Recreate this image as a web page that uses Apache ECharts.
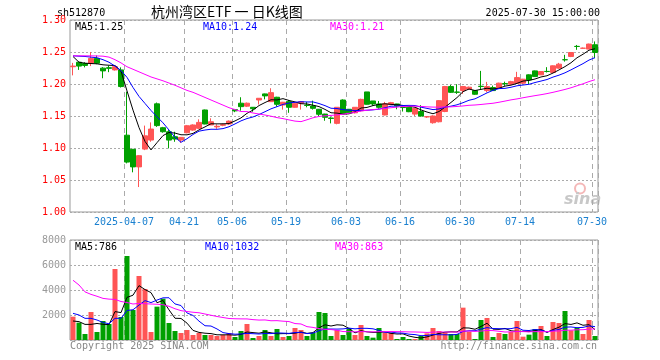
<!DOCTYPE html>
<html><head><meta charset="utf-8">
<script src="https://cdn.jsdelivr.net/npm/echarts@6/dist/echarts.min.js"></script>
<style>html,body{margin:0;padding:0;background:#fff}#c{width:660px;height:360px}</style>
</head><body><div id="c"></div>
<script>
const dates = ['2025-03-24','2025-03-25','2025-03-26','2025-03-27','2025-03-28','2025-03-31','2025-04-01','2025-04-02','2025-04-03','2025-04-07','2025-04-08','2025-04-09','2025-04-10','2025-04-11','2025-04-14','2025-04-15','2025-04-16','2025-04-17','2025-04-18','2025-04-21','2025-04-22','2025-04-23','2025-04-24','2025-04-25','2025-04-28','2025-04-29','2025-04-30','2025-05-06','2025-05-07','2025-05-08','2025-05-09','2025-05-12','2025-05-13','2025-05-14','2025-05-15','2025-05-16','2025-05-19','2025-05-20','2025-05-21','2025-05-22','2025-05-23','2025-05-26','2025-05-27','2025-05-28','2025-05-29','2025-05-30','2025-06-03','2025-06-04','2025-06-05','2025-06-06','2025-06-09','2025-06-10','2025-06-11','2025-06-12','2025-06-13','2025-06-16','2025-06-17','2025-06-18','2025-06-19','2025-06-20','2025-06-23','2025-06-24','2025-06-25','2025-06-26','2025-06-27','2025-06-30','2025-07-01','2025-07-02','2025-07-03','2025-07-04','2025-07-07','2025-07-08','2025-07-09','2025-07-10','2025-07-11','2025-07-14','2025-07-15','2025-07-16','2025-07-17','2025-07-18','2025-07-21','2025-07-22','2025-07-23','2025-07-24','2025-07-25','2025-07-28','2025-07-29','2025-07-30'];
const open  = [1.227,1.234,1.232,1.232,1.240,1.2248,1.2255,1.222,1.222,1.120,1.098,1.0705,1.0983,1.1124,1.169,1.1317,1.1254,1.1176,1.1124,1.1238,1.128,1.1307,1.1594,1.136,1.133,1.1355,1.1375,1.160,1.170,1.1654,1.1636,1.175,1.1845,1.1724,1.1793,1.1672,1.1724,1.1636,1.170,1.167,1.1657,1.1605,1.153,1.1468,1.1385,1.175,1.1605,1.155,1.1583,1.1876,1.1735,1.1688,1.1516,1.1677,1.1688,1.164,1.1636,1.153,1.157,1.1485,1.1395,1.141,1.157,1.196,1.1875,1.1897,1.192,1.1897,1.1965,1.1897,1.1944,1.1934,1.2008,1.1997,1.201,1.2013,1.2143,1.2205,1.2143,1.2197,1.218,1.2248,1.238,1.243,1.2588,1.2558,1.2545,1.2613];
const close = [1.228,1.228,1.229,1.240,1.2325,1.2205,1.2245,1.227,1.196,1.078,1.0705,1.088,1.119,1.1296,1.135,1.1254,1.1124,1.114,1.1166,1.1348,1.136,1.140,1.1375,1.141,1.134,1.1365,1.142,1.158,1.1646,1.170,1.1614,1.1777,1.1814,1.1865,1.1683,1.1715,1.1636,1.170,1.1724,1.1665,1.162,1.1527,1.148,1.1462,1.1636,1.1542,1.155,1.1636,1.176,1.1683,1.1688,1.1636,1.169,1.1708,1.1657,1.1632,1.1567,1.162,1.150,1.149,1.150,1.174,1.196,1.187,1.187,1.196,1.195,1.184,1.196,1.196,1.1897,1.2013,1.2003,1.2037,1.210,1.2075,1.2064,1.2116,1.2195,1.2195,1.2284,1.231,1.2378,1.2492,1.2586,1.256,1.2624,1.2492];
const low   = [1.2135,1.222,1.226,1.228,1.231,1.209,1.2185,1.221,1.1945,1.076,1.062,1.039,1.0967,1.1097,1.133,1.124,1.0994,1.1097,1.108,1.123,1.127,1.130,1.137,1.136,1.130,1.134,1.136,1.156,1.1583,1.164,1.1567,1.168,1.176,1.172,1.1646,1.160,1.155,1.163,1.160,1.1636,1.160,1.150,1.1426,1.1385,1.137,1.154,1.154,1.154,1.157,1.168,1.166,1.1614,1.151,1.167,1.1605,1.157,1.156,1.150,1.149,1.147,1.138,1.140,1.156,1.186,1.1845,1.1845,1.191,1.183,1.192,1.187,1.189,1.193,1.197,1.199,1.200,1.200,1.200,1.211,1.214,1.218,1.217,1.224,1.235,1.242,1.2534,1.255,1.254,1.2404];
const high  = [1.233,1.235,1.234,1.250,1.2445,1.2263,1.2288,1.229,1.226,1.188,1.098,1.089,1.135,1.140,1.171,1.133,1.128,1.1254,1.117,1.136,1.137,1.1448,1.160,1.1464,1.137,1.138,1.143,1.161,1.1793,1.171,1.164,1.178,1.185,1.1934,1.180,1.172,1.175,1.172,1.1735,1.172,1.174,1.161,1.1535,1.148,1.164,1.176,1.161,1.164,1.177,1.1876,1.1735,1.1735,1.172,1.172,1.169,1.165,1.164,1.163,1.167,1.150,1.151,1.175,1.197,1.1986,1.1997,1.197,1.196,1.190,1.2205,1.2033,1.1975,1.202,1.2037,1.205,1.219,1.208,1.215,1.221,1.220,1.2263,1.229,1.233,1.2456,1.250,1.261,1.257,1.263,1.2665];
const ma5  = [1.243,1.234,1.2325,1.232,1.2315,1.2300,1.2293,1.2289,1.2201,1.1892,1.1592,1.1319,1.1103,1.0970,1.1084,1.1194,1.1243,1.1233,1.1207,1.1206,1.1228,1.1283,1.1330,1.1379,1.1377,1.1378,1.1382,1.1423,1.1470,1.1542,1.1592,1.1663,1.1710,1.1754,1.1751,1.1771,1.1743,1.1720,1.1692,1.1688,1.1669,1.1647,1.1603,1.1551,1.1545,1.1529,1.1534,1.1565,1.1625,1.1634,1.1663,1.1681,1.1691,1.1681,1.1676,1.1665,1.1651,1.1637,1.1595,1.1562,1.1535,1.1570,1.1638,1.1712,1.1788,1.1880,1.1922,1.1898,1.1916,1.1934,1.1921,1.1934,1.1967,1.1982,1.2010,1.2046,1.2056,1.2078,1.2110,1.2129,1.2171,1.2220,1.2272,1.2332,1.2410,1.2465,1.2528,1.2551];
const ma10 = [1.244,1.2435,1.243,1.242,1.241,1.238,1.234,1.228,1.221,1.2104,1.1946,1.1806,1.1696,1.1586,1.1488,1.1393,1.1281,1.1168,1.1089,1.1145,1.1211,1.1263,1.1281,1.1293,1.1292,1.1303,1.1332,1.1376,1.1424,1.1460,1.1485,1.1523,1.1567,1.1612,1.1646,1.1681,1.1703,1.1715,1.1723,1.1719,1.1720,1.1695,1.1662,1.1621,1.1617,1.1599,1.1591,1.1584,1.1588,1.1590,1.1596,1.1607,1.1628,1.1653,1.1655,1.1664,1.1666,1.1664,1.1638,1.1619,1.1600,1.1610,1.1637,1.1654,1.1675,1.1708,1.1746,1.1768,1.1814,1.1861,1.1901,1.1928,1.1932,1.1949,1.1972,1.1984,1.1995,1.2023,1.2046,1.2070,1.2108,1.2138,1.2175,1.2221,1.2270,1.2318,1.2374,1.2412];
const ma30 = [1.244,1.244,1.244,1.244,1.2438,1.2435,1.242,1.238,1.233,1.227,1.223,1.219,1.215,1.211,1.208,1.205,1.2015,1.198,1.194,1.190,1.187,1.183,1.179,1.175,1.171,1.167,1.163,1.160,1.157,1.1569,1.1547,1.1531,1.1515,1.1497,1.1475,1.1459,1.1439,1.1420,1.1412,1.1441,1.1472,1.1493,1.1503,1.1509,1.1518,1.1528,1.1542,1.1559,1.1578,1.1590,1.1600,1.1608,1.1619,1.1629,1.1639,1.1648,1.1653,1.1654,1.1650,1.1643,1.1639,1.1638,1.1642,1.1643,1.1649,1.1657,1.1667,1.1672,1.1680,1.1690,1.1699,1.1715,1.1733,1.1752,1.1767,1.1785,1.1802,1.1818,1.1833,1.1850,1.1870,1.1892,1.1915,1.1941,1.1972,1.2003,1.2038,1.2067];
const volume = [1867,1387,480,2240,640,1520,1280,5680,1840,6720,2400,5120,4080,640,2667,3307,1360,720,560,800,400,560,400,400,320,400,560,240,720,1280,160,320,800,320,880,240,320,960,800,320,560,2240,2160,320,800,400,933,400,1200,320,187,960,587,587,80,240,80,80,320,533,960,720,587,480,480,2587,667,80,1600,1760,240,560,480,640,1520,267,427,880,1120,320,1440,1360,2320,773,960,480,1600,320];
const volMa5  = [1520,1470,1250,1250,1323,1253,1232,2272,2192,3408,3584,4352,4032,3792,2981,3163,2411,1739,1723,1349,768,608,544,512,416,416,416,384,448,640,592,544,656,576,496,512,512,544,640,528,592,976,1216,1120,1216,1184,923,571,747,651,608,613,651,528,480,491,315,213,160,251,395,523,624,656,645,971,960,859,1083,1339,869,848,928,736,688,693,667,747,843,603,837,1024,1312,1243,1371,1179,1227,827];
const volMa10 = [2133,2000,1733,1733,1600,1400,1300,1733,1733,2365,2419,2792,3152,2992,3195,3373,3381,2885,2757,2165,1965,1509,1141,1117,883,592,512,464,480,528,504,480,520,512,568,552,528,600,608,512,552,744,880,880,872,888,949,893,933,933,896,768,611,637,565,549,464,432,344,365,443,419,419,408,448,683,741,741,869,992,920,904,893,909,1013,781,757,837,789,645,765,845,1029,1043,987,1008,1125,1069];
const volMa30 = [4780,4400,3850,3650,3500,3330,3270,3250,3080,3000,2880,2930,2900,2880,2860,2820,2700,2500,2350,2280,2220,2180,2080,1980,1880,1800,1720,1700,1690,1686,1629,1594,1604,1540,1548,1506,1474,1316,1282,1068,1007,911,847,836,774,677,663,652,674,658,651,664,670,676,668,663,647,642,628,604,630,644,636,642,628,707,718,689,716,764,753,697,641,652,676,671,654,670,668,668,709,723,781,787,816,824,875,883];
const tickDates  = ['2025-04-07','2025-04-21','2025-05-06','2025-05-19','2025-06-03','2025-06-16','2025-06-30','2025-07-14','2025-07-30'];
const tickLabels = ['2025-04-07','04-21','05-06','05-19','06-03','06-16','06-30','07-14','07-30'];
const priceLegend = ['MA5:1.25','MA10:1.24','MA30:1.21'];
const volLegend = ['MA5:786','MA10:1032','MA30:863'];

const RED = '#ff5555', GREEN = '#00a000';
const MONO = '"DejaVu Sans Mono", "Liberation Mono", monospace';
const tickSet = new Set(tickDates.map(d => dates.indexOf(d)));
const showTick = (i) => tickSet.has(i);

const kData = dates.map((d, i) => [open[i], close[i], low[i], high[i]]);
const volData = volume.map((v, i) => ({ value: v, itemStyle: { color: close[i] >= open[i] ? RED : GREEN } }));

const chart = echarts.init(document.getElementById('c'));
const lineS = (name, data, color, xi, yi) => ({
  name, type: 'line', data, xAxisIndex: xi, yAxisIndex: yi, symbol: 'none',
  lineStyle: { color, width: 1 }, z: 5, silent: true
});
const txt = (text, x, y, color, extra) => ({ type: 'text', left: x, top: y, silent: true,
  style: Object.assign({ text, fill: color, font: '10px ' + MONO }, extra || {}) });

chart.setOption({
  animation: false,
  backgroundColor: '#fff',
  grid: [
    { left: 70, top: 20, width: 528, height: 192, show: true, borderColor: '#999', borderWidth: 1, backgroundColor: 'transparent' },
    { left: 70, top: 240, width: 528, height: 100, show: true, borderColor: '#999', borderWidth: 1, backgroundColor: 'transparent' }
  ],
  xAxis: [
    { type: 'category', data: dates, gridIndex: 0, boundaryGap: true,
      axisLine: { show: false }, axisTick: { show: false },
      axisLabel: { interval: showTick, color: '#1a80d0', fontFamily: MONO, fontSize: 10, margin: 5, padding: [0, 6, 0, 0],
        formatter: (v) => tickLabels[tickDates.indexOf(v)] },
      splitLine: { show: true, interval: showTick, lineStyle: { color: '#aaa', width: 1, type: [5, 4] } } },
    { type: 'category', data: dates, gridIndex: 1, boundaryGap: true,
      axisLine: { show: false }, axisTick: { show: false }, axisLabel: { show: false },
      splitLine: { show: true, interval: showTick, lineStyle: { color: '#aaa', width: 1, type: [5, 4] } } }
  ],
  yAxis: [
    { type: 'value', gridIndex: 0, min: 1.0, max: 1.3, interval: 0.05,
      axisLine: { show: false }, axisTick: { show: false },
      axisLabel: { color: '#ff0000', fontFamily: MONO, fontSize: 10, margin: 4, formatter: v => v.toFixed(2) },
      splitLine: { show: true, lineStyle: { color: '#aaa', width: 1, type: [2, 2] } } },
    { type: 'value', gridIndex: 1, min: 0, max: 8000, interval: 2000,
      axisLine: { show: false }, axisTick: { show: false },
      axisLabel: { color: '#999', fontFamily: MONO, fontSize: 10, margin: 4, formatter: v => v === 0 ? '' : String(v) },
      splitLine: { show: true, lineStyle: { color: '#aaa', width: 1, type: [2, 2] } } }
  ],
  series: [
    { type: 'candlestick', data: kData, xAxisIndex: 0, yAxisIndex: 0, barWidth: 5, silent: true,
      itemStyle: { color: RED, color0: GREEN, borderColor: RED, borderColor0: GREEN, borderWidth: 1 } },
    lineS('MA5', ma5, '#000000', 0, 0),
    lineS('MA10', ma10, '#0000ff', 0, 0),
    lineS('MA30', ma30, '#ff00ff', 0, 0),
    { type: 'bar', data: volData, xAxisIndex: 1, yAxisIndex: 1, barWidth: 5, silent: true },
    lineS('VMA5', volMa5, '#000000', 1, 1),
    lineS('VMA10', volMa10, '#0000ff', 1, 1),
    lineS('VMA30', volMa30, '#ff00ff', 1, 1)
  ],
  graphic: [
    txt('sh512870', 57, 8, '#000'),
    { type: 'text', left: 151, top: 5, silent: true, style: { text: '杭州湾区ETF 一 日K线图', fill: '#000', font: '14px "Noto Sans CJK SC", sans-serif' } },
    { type: 'text', right: 60, top: 8, silent: true, style: { text: '2025-07-30 15:00:00', fill: '#000', font: '10px ' + MONO } },
    txt(priceLegend[0], 75, 22, '#000'),
    txt(priceLegend[1], 203, 22, '#0000ff'),
    txt(priceLegend[2], 330, 22, '#ff00ff'),
    txt(volLegend[0], 75, 242, '#000'),
    txt(volLegend[1], 205, 242, '#0000ff'),
    txt(volLegend[2], 335, 242, '#ff00ff'),
    txt('Copyright 2025 SINA.COM', 70, 341, '#888'),
    { type: 'text', right: 63, top: 341, silent: true, style: { text: 'http://finance.sina.com.cn', fill: '#888', font: '10px ' + MONO } },
    { type: 'group', left: 564, top: 181, silent: true, children: [
      { type: 'circle', shape: { cx: 16, cy: 7, r: 5 }, style: { fill: 'none', stroke: '#f4b8b8', lineWidth: 2 } },
      { type: 'text', style: { x: 0, y: 10, text: 'sina', fill: '#c8c8c8', font: 'italic bold 16px "DejaVu Sans", sans-serif' } }
    ] }
  ]
});
</script></body></html>
